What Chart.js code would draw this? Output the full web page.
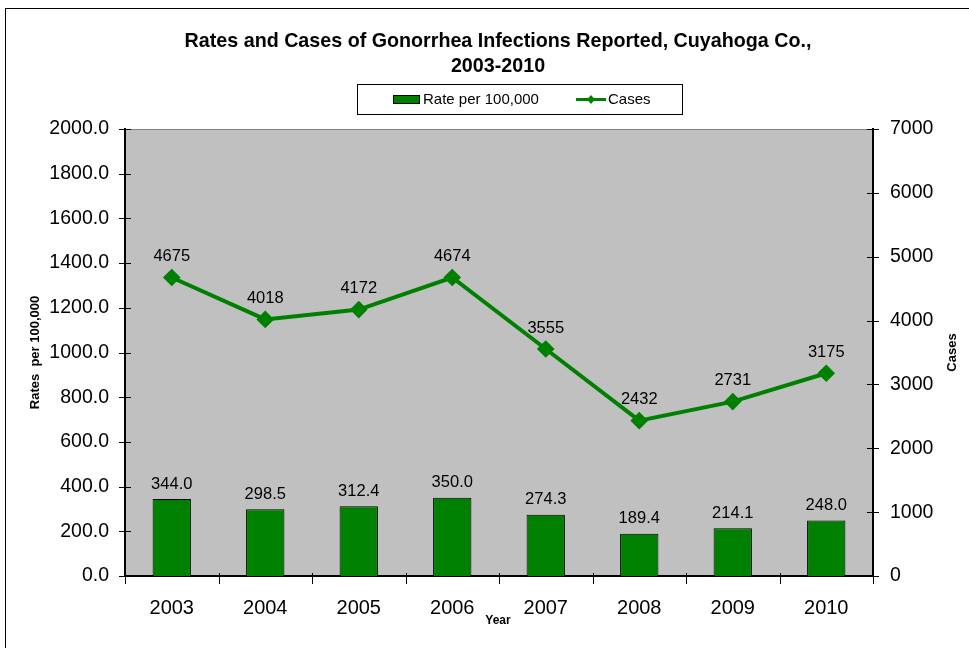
<!DOCTYPE html>
<html>
<head>
<meta charset="utf-8">
<script src="https://cdn.jsdelivr.net/npm/chart.js@4.4.1/dist/chart.umd.min.js"></script>
<style>
  html, body { margin: 0; padding: 0; background: #fff; }
  #wrap { width: 969px; height: 648px; }
</style>
</head>
<body>
<div id="wrap"><canvas id="chart" width="969" height="648"></canvas></div>
<script>
// Data
const years = ['2003', '2004', '2005', '2006', '2007', '2008', '2009', '2010'];
const rates = [344.0, 298.5, 312.4, 350.0, 274.3, 189.4, 214.1, 248.0];
const cases = [4675, 4018, 4172, 4674, 3555, 2432, 2731, 3175];
const rateTicks = [0, 200, 400, 600, 800, 1000, 1200, 1400, 1600, 1800, 2000];
const caseTicks = [0, 1000, 2000, 3000, 4000, 5000, 6000, 7000];

const FONT = "'Liberation Sans', Arial, sans-serif";
const GREEN = '#008000';

// Frame, grey plot area, tick marks, titles, legend, value labels
const chromePlugin = {
    id: 'chrome',
    beforeDraw(chart) {
        const ctx = chart.ctx;
        const a = chart.chartArea;
        ctx.save();
        ctx.fillStyle = '#fff';
        ctx.fillRect(0, 0, chart.width, chart.height);
        ctx.strokeStyle = '#000';
        ctx.lineWidth = 1;
        ctx.strokeRect(5.5, 8.5, 1200, 1200);
        ctx.fillStyle = '#c0c0c0';
        ctx.fillRect(a.left, a.top, a.right - a.left, a.bottom - a.top);
        ctx.strokeStyle = '#808080';
        ctx.strokeRect(a.left + 0.5, a.top + 0.5, a.right - a.left, a.bottom - a.top);
        ctx.restore();
    },
    afterDatasetsDraw(chart) {
        const ctx = chart.ctx;
        ctx.save();
        ctx.fillStyle = '#000';
        ctx.textAlign = 'center';
        ctx.textBaseline = 'middle';
        ctx.font = '16.5px ' + FONT;
        chart.getDatasetMeta(0).data.forEach((bar, i) => {
            ctx.fillText(rates[i].toFixed(1), bar.x, bar.y - 15);
        });
        chart.getDatasetMeta(1).data.forEach((pt, i) => {
            ctx.fillText(String(cases[i]), pt.x, pt.y - 21);
        });
        ctx.restore();
    },
    afterDraw(chart) {
        const ctx = chart.ctx;
        const a = chart.chartArea;
        const x = chart.scales.x, y = chart.scales.y, y1 = chart.scales.y1;
        ctx.save();
        ctx.strokeStyle = '#000';
        ctx.lineWidth = 1;
        ctx.beginPath();
        y.ticks.forEach((t, i) => {
            const py = Math.round(y.getPixelForTick(i)) + 0.5;
            ctx.moveTo(a.left - 6, py); ctx.lineTo(a.left + 6, py);
        });
        y1.ticks.forEach((t, i) => {
            const py = Math.round(y1.getPixelForTick(i)) + 0.5;
            ctx.moveTo(a.right - 6, py); ctx.lineTo(a.right + 6, py);
        });
        const step = (a.right - a.left) / years.length;
        for (let i = 0; i <= years.length; i++) {
            const px = Math.round(x.getPixelForTick(Math.min(i, years.length - 1)) + (i < years.length ? -step / 2 : step / 2)) + 0.5;
            ctx.moveTo(px, a.bottom - 3); ctx.lineTo(px, a.bottom + 8);
        }
        ctx.stroke();

        // chart title
        ctx.fillStyle = '#000';
        ctx.textAlign = 'center';
        ctx.textBaseline = 'middle';
        ctx.font = 'bold 19.7px ' + FONT;
        ctx.fillText('Rates and Cases of Gonorrhea Infections Reported, Cuyahoga Co.,', 498, 42);
        ctx.fillText('2003-2010', 498, 67);

        // axis titles
        ctx.font = 'bold 12px ' + FONT;
        ctx.fillText('Year', 498, 621);
        ctx.font = 'bold 13px ' + FONT;
        ctx.save();
        ctx.translate(35, (a.top + a.bottom) / 2);
        ctx.rotate(-Math.PI / 2);
        ctx.fillText('Rates  per 100,000', 0, 0);
        ctx.restore();
        ctx.save();
        ctx.translate(952, (a.top + a.bottom) / 2);
        ctx.rotate(-Math.PI / 2);
        ctx.fillText('Cases', 0, 0);
        ctx.restore();

        // legend
        ctx.fillStyle = '#fff';
        ctx.fillRect(357, 84, 325, 30);
        ctx.strokeStyle = '#000';
        ctx.strokeRect(357.5, 84.5, 325, 30);
        ctx.fillStyle = GREEN;
        ctx.fillRect(393, 95, 26, 8);
        ctx.strokeRect(393.5, 95.5, 26, 8);
        ctx.strokeStyle = GREEN;
        ctx.lineWidth = 3;
        ctx.beginPath();
        ctx.moveTo(576, 99.5); ctx.lineTo(606, 99.5);
        ctx.stroke();
        ctx.beginPath();
        ctx.moveTo(591, 95); ctx.lineTo(595, 99.5); ctx.lineTo(591, 104); ctx.lineTo(587, 99.5);
        ctx.closePath();
        ctx.fill();
        ctx.fillStyle = '#000';
        ctx.textAlign = 'left';
        ctx.font = '15px ' + FONT;
        ctx.fillText(chart.data.datasets[0].label, 423, 100);
        ctx.fillText(chart.data.datasets[1].label, 608, 100);
        ctx.restore();
    }
};

new Chart(document.getElementById('chart'), {
    data: {
        labels: years,
        datasets: [{
            type: 'bar',
            label: 'Rate per 100,000',
            data: rates,
            yAxisID: 'y',
            backgroundColor: GREEN,
            borderColor: '#000',
            borderWidth: 1,
            categoryPercentage: 1,
            barPercentage: 0.41,
            order: 2
        }, {
            type: 'line',
            label: 'Cases',
            data: cases,
            yAxisID: 'y1',
            borderColor: GREEN,
            borderWidth: 4,
            pointStyle: 'rectRot',
            pointRadius: 6,
            pointBackgroundColor: GREEN,
            pointBorderColor: GREEN,
            tension: 0,
            order: 1
        }]
    },
    options: {
        responsive: false,
        animation: false,
        layout: { padding: { top: 129, left: 0, right: 0, bottom: 0 } },
        plugins: {
            legend: { display: false },
            title: { display: false },
            tooltip: { enabled: false }
        },
        scales: {
            x: {
                offset: true,
                grid: { display: false },
                border: { color: '#000', width: 2 },
                ticks: { color: '#000', font: { family: FONT, size: 20 }, padding: 12, maxRotation: 0, autoSkip: false },
                afterFit(s) { s.height = 72; }
            },
            y: {
                position: 'left',
                min: 0,
                max: 2000,
                grid: { display: false, drawTicks: false },
                border: { color: '#000', width: 2 },
                afterBuildTicks(s) { s.ticks = rateTicks.map(v => ({ value: v })); },
                ticks: { color: '#000', font: { family: FONT, size: 19.5 }, padding: 16, callback: v => Number(v).toFixed(1) },
                afterFit(s) { s.width = 125; }
            },
            y1: {
                position: 'right',
                min: 0,
                max: 7000,
                grid: { display: false, drawTicks: false },
                border: { color: '#000', width: 2 },
                afterBuildTicks(s) { s.ticks = caseTicks.map(v => ({ value: v })); },
                ticks: { color: '#000', font: { family: FONT, size: 19.5 }, padding: 17, callback: v => String(v) },
                afterFit(s) { s.width = 96; }
            }
        }
    },
    plugins: [chromePlugin]
});
</script>
</body>
</html>
